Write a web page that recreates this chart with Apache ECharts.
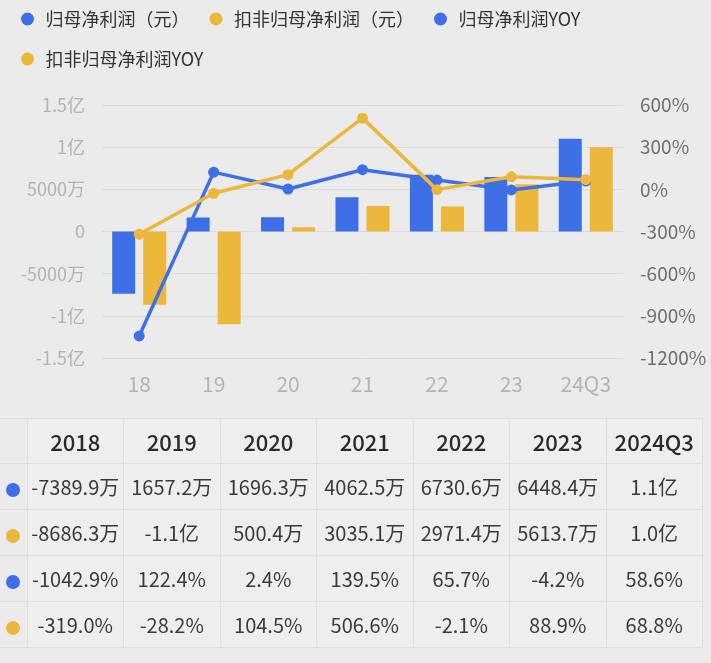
<!DOCTYPE html>
<html>
<head>
<meta charset="utf-8">
<script src="https://cdn.jsdelivr.net/npm/echarts@6/dist/echarts.min.js"></script>
<style>
    html, body { margin: 0; padding: 0; background: #ebebeb; }
    #wrap { position: relative; width: 711px; height: 663px; overflow: hidden; }
    #chart { position: absolute; left: 0; top: 0; width: 711px; height: 663px; }
    #tbl {
        position: absolute; left: 0; top: 418px; width: 703px;
        border-collapse: collapse; table-layout: fixed;
        font-family: "Noto Sans CJK SC", "Noto Sans", sans-serif;
        color: #3a3a3a;
    }
    #tbl td, #tbl th {
        border: 1px solid #e0e0e0; background: #eeeeee;
        text-align: center; padding: 0; white-space: nowrap;
        font-size: 20px; height: 45px;
    }
    #tbl th { font-size: 22px; font-weight: 500; color: #2a2a2a; height: 44px; }
    #tbl td.mk, #tbl th.mk { background: #ebebeb; border-left: none; }
    .dot { display: inline-block; width: 14px; height: 14px; border-radius: 50%; vertical-align: middle; }
</style>
</head>
<body>
<div id="wrap">
    <div id="chart"></div>
    <table id="tbl"></table>
</div>
<script>
// 横轴类目 / 表头
const categories = ['18', '19', '20', '21', '22', '23', '24Q3'];
const periods = ['2018', '2019', '2020', '2021', '2022', '2023', '2024Q3'];

// 单位：万元
const netProfit = [-7389.9, 1657.2, 1696.3, 4062.5, 6730.6, 6448.4, 11000];
const deductedProfit = [-8686.3, -11000, 500.4, 3035.1, 2971.4, 5613.7, 10000];

// 单位：%
const netProfitYoy = [-1042.9, 122.4, 2.4, 139.5, 65.7, -4.2, 58.6];
const deductedYoy = [-319.0, -28.2, 104.5, 506.6, -2.1, 88.9, 68.8];

// 坐标轴刻度 [min, max, interval]
const leftTicks = [-15000, 15000, 5000];
const rightTicks = [-1200, 600, 300];

const names = ['归母净利润（元）', '扣非归母净利润（元）', '归母净利润YOY', '扣非归母净利润YOY'];
const BLUE = '#3e6fe6';
const YELLOW = '#ecb83c';
const FONT = '"Noto Sans CJK SC", "Noto Sans", sans-serif';

function fmtWan(v) {
    if (Math.abs(v) >= 10000) return (v / 10000).toFixed(1) + '亿';
    return v.toFixed(1) + '万';
}
function fmtAxis(v) {
    if (v === 0) return '0';
    if (Math.abs(v) >= 10000) return (v / 10000) + '亿';
    return v + '万';
}

const chart = echarts.init(document.getElementById('chart'));
chart.setOption({
    animation: false,
    textStyle: { fontFamily: FONT },
    legend: {
        left: 16,
        top: 4,
        width: 680,
        icon: 'circle',
        itemWidth: 26,
        itemHeight: 13,
        itemGap: 20,
        textStyle: { fontSize: 18, color: '#333', lineHeight: 20 },
        data: names
    },
    grid: { left: 102, right: 88, top: 105, bottom: 305 },
    xAxis: {
        type: 'category',
        data: categories,
        axisLine: { show: false },
        axisTick: { show: false },
        axisLabel: { fontSize: 21, color: '#b4b4b4', margin: 16 }
    },
    yAxis: [{
        type: 'value',
        min: leftTicks[0], max: leftTicks[1], interval: leftTicks[2],
        axisLine: { show: false },
        axisTick: { show: false },
        axisLabel: { fontSize: 18, color: '#b3b3b3', margin: 17, formatter: fmtAxis },
        splitLine: { lineStyle: { color: '#dcdcdc', width: 1 } }
    }, {
        type: 'value',
        min: rightTicks[0], max: rightTicks[1], interval: rightTicks[2],
        axisLine: { show: false },
        axisTick: { show: false },
        axisLabel: { fontSize: 19, color: '#707070', margin: 17, formatter: v => v + '%' },
        splitLine: { show: false }
    }],
    series: [{
        name: names[0], type: 'bar', data: netProfit,
        barWidth: 23, barGap: '35%',
        itemStyle: { color: BLUE }
    }, {
        name: names[1], type: 'bar', data: deductedProfit,
        barWidth: 23, barGap: '35%',
        itemStyle: { color: YELLOW }
    }, {
        name: names[2], type: 'line', yAxisIndex: 1, data: netProfitYoy,
        symbol: 'circle', symbolSize: 11,
        lineStyle: { color: BLUE, width: 3.5 },
        itemStyle: { color: BLUE }
    }, {
        name: names[3], type: 'line', yAxisIndex: 1, data: deductedYoy,
        symbol: 'circle', symbolSize: 11,
        lineStyle: { color: YELLOW, width: 3.5 },
        itemStyle: { color: YELLOW }
    }]
});

// 下方数据表
const rows = [
    { color: BLUE, cells: netProfit.map(fmtWan) },
    { color: YELLOW, cells: deductedProfit.map(fmtWan) },
    { color: BLUE, cells: netProfitYoy.map(v => v.toFixed(1) + '%') },
    { color: YELLOW, cells: deductedYoy.map(v => v.toFixed(1) + '%') }
];
let html = '<colgroup><col style="width:27px">' + periods.map(() => '<col>').join('') + '</colgroup>';
html += '<tr><th class="mk"></th>' + periods.map(p => '<th>' + p + '</th>').join('') + '</tr>';
rows.forEach(r => {
    html += '<tr><td class="mk"><span class="dot" style="background:' + r.color + '"></span></td>' +
        r.cells.map(c => '<td>' + c + '</td>').join('') + '</tr>';
});
document.getElementById('tbl').innerHTML = html;
</script>
</body>
</html>
